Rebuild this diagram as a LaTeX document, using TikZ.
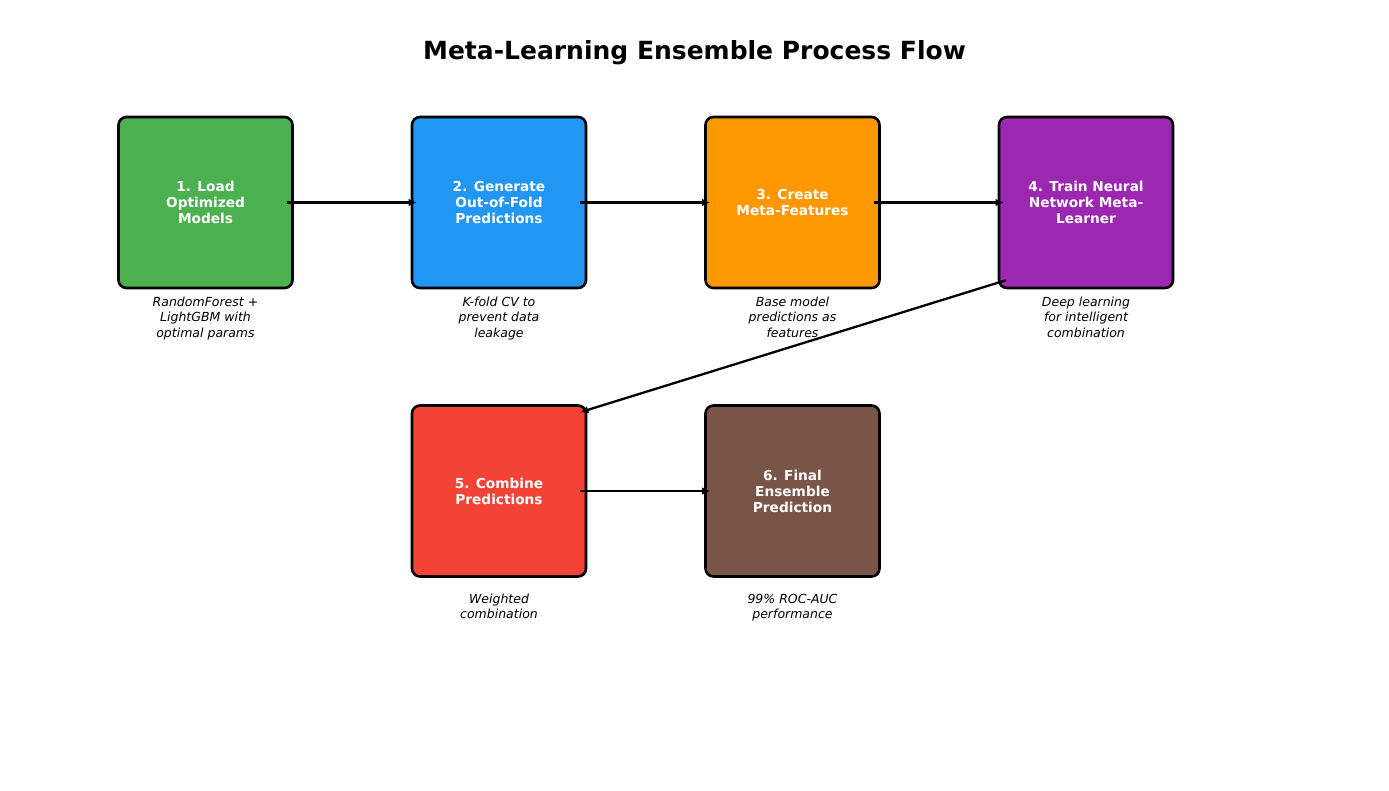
\documentclass[tikz,border=0pt]{standalone}
\usepackage{fontspec}
\setmainfont{DejaVu Sans}
\usetikzlibrary{arrows.meta}
\definecolor{cgreen}{HTML}{4CAF50}
\definecolor{cblue}{HTML}{2196F3}
\definecolor{corange}{HTML}{FF9800}
\definecolor{cpurple}{HTML}{9C27B0}
\definecolor{cred}{HTML}{F44336}
\definecolor{cbrown}{HTML}{795548}
\tikzset{
  stepbox/.style={draw=black, line width=2.6pt, rounded corners=8pt,
    minimum width=174pt, minimum height=171pt, text=white, align=center,
    font=\fontsize{13.7}{16}\selectfont\bfseries, inner sep=0pt},
  desc/.style={anchor=north, align=center, font=\fontsize{12.5}{15.2}\selectfont\itshape, inner sep=0pt},
  conn/.style={line width=2.3pt, -{Latex[length=8pt,width=7.5pt]}}
}
\begin{document}
\begin{tikzpicture}[x=1pt,y=1pt]
\useasboundingbox (0,0) rectangle (1389,-790);
\node[font=\fontsize{25}{30}\selectfont\bfseries] (title) at (694.5,-52.5) {Meta-Learning Ensemble Process Flow};

\node[stepbox, fill=cgreen] (b1) at (205.5,-202.5) {1. Load\\Optimized\\Models};
\node[stepbox, fill=cblue] (b2) at (499,-202.5) {2. Generate\\Out-of-Fold\\Predictions};
\node[stepbox, fill=corange] (b3) at (792.5,-202.5) {3. Create\\Meta-Features};
\node[stepbox, fill=cpurple] (b4) at (1086,-202.5) {4. Train Neural\\Network Meta-\\Learner};
\node[stepbox, fill=cred] (b5) at (499,-491) {5. Combine\\Predictions};
\node[stepbox, fill=cbrown] (b6) at (792.5,-491) {6. Final\\Ensemble\\Prediction};

\node[desc] (d1) at (205.5,-297) {RandomForest +\\LightGBM with\\optimal params};
\node[desc] (d2) at (499,-297) {K-fold CV to\\prevent data\\leakage};
\node[desc] (d3) at (792.5,-297) {Base model\\predictions as\\features};
\node[desc] (d4) at (1086,-297) {Deep learning\\for intelligent\\combination};
\node[desc] (d5) at (499,-594) {Weighted\\combination};
\node[desc] (d6) at (792.5,-594) {99\% ROC-AUC\\performance};

\draw[conn] ([xshift=-7pt]b1.east) -- ([xshift=6pt]b2.west);
\draw[conn] ([xshift=-7pt]b2.east) -- ([xshift=6pt]b3.west);
\draw[conn] ([xshift=-7pt]b3.east) -- ([xshift=6pt]b4.west);
\draw[conn] ([xshift=8pt,yshift=9pt]b4.south west) -- ([xshift=-7pt,yshift=-8pt]b5.north east);
\draw[conn] ([xshift=-7pt]b5.east) -- ([xshift=6pt]b6.west);
\end{tikzpicture}
\end{document}
